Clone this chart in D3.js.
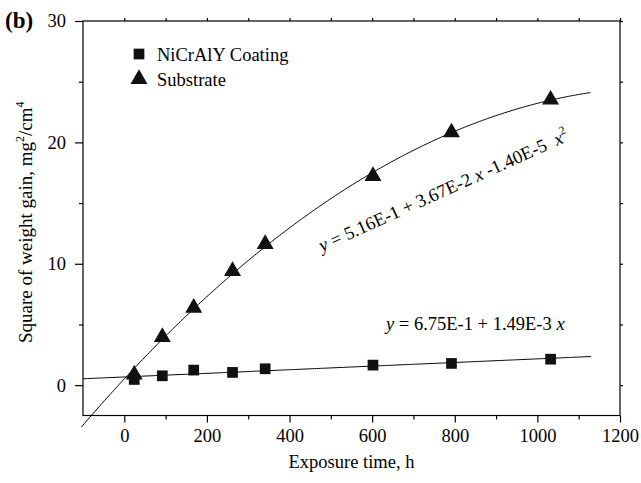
<!DOCTYPE html>
<html><head><meta charset="utf-8">
<script src="https://cdn.jsdelivr.net/npm/d3@7"></script>
<style>
body{margin:0;background:#fff;}
text{font-family:"Liberation Serif","Times New Roman",serif;fill:#000;}
</style></head>
<body><svg id="c" width="641" height="483"></svg>
<script>
// ---- data ----
const hours = [24, 92, 168, 262, 341, 602, 792, 1032];
const coating = [0.47, 0.77, 1.24, 1.05, 1.35, 1.65, 1.79, 2.14];
const substrate = [0.96, 4.04, 6.46, 9.48, 11.7, 17.3, 20.9, 23.6];
const linFit = [0.675, 1.49e-3];            // y = a + b x
const quadFit = [0.516, 3.67e-2, -1.40e-5]; // y = a + b x + c x^2
const xMajor = [0, 200, 400, 600, 800, 1000, 1200];
const xMinor = [100, 300, 500, 700, 900, 1100];
const yMajor = [0, 10, 20, 30];
const yMinor = [5, 15, 25];
const legendLabels = ["NiCrAlY Coating", "Substrate"];

const svg = d3.select("#c");
const L = 83, R = 620, T = 21, B = 415.5;
const x = d3.scaleLinear().domain([-100, 1200]).range([L, R]);
const y = d3.scaleLinear().domain([-2.5, 30]).range([B, T]);

// frame
svg.append("rect").attr("x", L).attr("y", T).attr("width", R - L).attr("height", B - T)
  .attr("fill", "none").attr("stroke", "#000").attr("stroke-width", 1.2);

const fs = 18.5;
// bottom axis
svg.append("g").attr("transform", `translate(0,${B})`)
  .call(d3.axisBottom(x).tickValues(xMajor).tickSize(7).tickPadding(6).tickFormat(d3.format("d")));
svg.append("g").attr("transform", `translate(0,${B})`)
  .call(d3.axisBottom(x).tickValues(xMinor).tickSize(4).tickFormat(""));
// left axis
svg.append("g").attr("transform", `translate(${L},0)`)
  .call(d3.axisLeft(y).tickValues(yMajor).tickSize(8).tickPadding(9).tickFormat(d3.format("d")));
svg.append("g").attr("transform", `translate(${L},0)`)
  .call(d3.axisLeft(y).tickValues(yMinor).tickSize(4).tickFormat(""));
// top axis
svg.append("g").attr("transform", `translate(0,${T})`)
  .call(d3.axisTop(x).tickValues(xMajor.concat(xMinor)).tickSize(3).tickFormat(""));
// right axis
svg.append("g").attr("transform", `translate(${R},0)`)
  .call(d3.axisRight(y).tickValues(yMajor.concat(yMinor)).tickSize(3).tickFormat(""));

svg.selectAll(".domain").remove();
svg.selectAll(".tick line").attr("stroke", "#000").attr("stroke-width", 1.2);
svg.selectAll(".tick text").attr("font-size", fs).attr("font-family", "Liberation Serif").attr("fill", "#000");

// fit lines
const xs1 = d3.range(-100, 1131, 5);
const line = d3.line().x(d => x(d[0])).y(d => y(d[1]));
svg.append("path").datum(xs1.map(v => [v, linFit[0] + linFit[1] * v]))
  .attr("d", line).attr("fill", "none").attr("stroke", "#000").attr("stroke-width", 1);
const xs2 = d3.range(-104, 1131, 4);
svg.append("path").datum(xs2.map(v => [v, quadFit[0] + quadFit[1] * v + quadFit[2] * v * v]))
  .attr("d", line).attr("fill", "none").attr("stroke", "#000").attr("stroke-width", 1);

// markers
const sq = d3.symbol().type(d3.symbolSquare).size(115);
const tri = d3.symbol().type(d3.symbolTriangle).size(125);
svg.selectAll(".sq").data(hours.map((h, i) => [h, coating[i]])).join("path")
  .attr("transform", d => `translate(${x(d[0])},${y(d[1])})`).attr("d", sq).attr("fill", "#111");
svg.selectAll(".tr").data(hours.map((h, i) => [h, substrate[i]])).join("path")
  .attr("transform", d => `translate(${x(d[0])},${y(d[1]) + 1})`).attr("d", tri).attr("fill", "#111");

// legend
svg.append("path").attr("d", sq).attr("transform", "translate(139,54)").attr("fill", "#111");
svg.append("path").attr("d", tri).attr("transform", "translate(139,79)").attr("fill", "#111");
svg.append("text").attr("x", 157).attr("y", 60.5).attr("font-size", fs).text(legendLabels[0]);
svg.append("text").attr("x", 157).attr("y", 85.5).attr("font-size", fs).text(legendLabels[1]);

// panel label
svg.append("text").attr("x", 5).attr("y", 28).attr("font-size", 23).attr("font-weight", "bold").text("(b)");

// axis titles
svg.append("text").attr("x", (L + R) / 2).attr("y", 468).attr("text-anchor", "middle").attr("font-size", fs)
  .text("Exposure time, h");
const yt = svg.append("text").attr("transform", `translate(32,${(T + B) / 2 + 4}) rotate(-90)`)
  .attr("text-anchor", "middle").attr("font-size", 19);
yt.append("tspan").text("Square of weight gain, mg");
yt.append("tspan").attr("dy", -8).attr("font-size", 12).text("2");
yt.append("tspan").attr("dy", 8).text("/cm");
yt.append("tspan").attr("dy", -8).attr("font-size", 12).text("4");

// equations
const e1 = svg.append("text").attr("x", 386).attr("y", 330).attr("font-size", fs);
e1.append("tspan").attr("font-style", "italic").text("y");
e1.append("tspan").text(" = 6.75E-1 + 1.49E-3 ");
e1.append("tspan").attr("font-style", "italic").text("x");

const e2 = svg.append("text").attr("transform", "translate(322,252) rotate(-24.3)").attr("font-size", fs)
  .attr("xml:space", "preserve");
e2.append("tspan").attr("font-style", "italic").text("y");
e2.append("tspan").text(" = 5.16E-1 + 3.67E-2 ");
e2.append("tspan").attr("font-style", "italic").text("x");
e2.append("tspan").text(" -1.40E-5  ");
e2.append("tspan").attr("font-style", "italic").text("x");
e2.append("tspan").attr("dy", -8).attr("font-size", 12).text("2");
</script></body></html>
